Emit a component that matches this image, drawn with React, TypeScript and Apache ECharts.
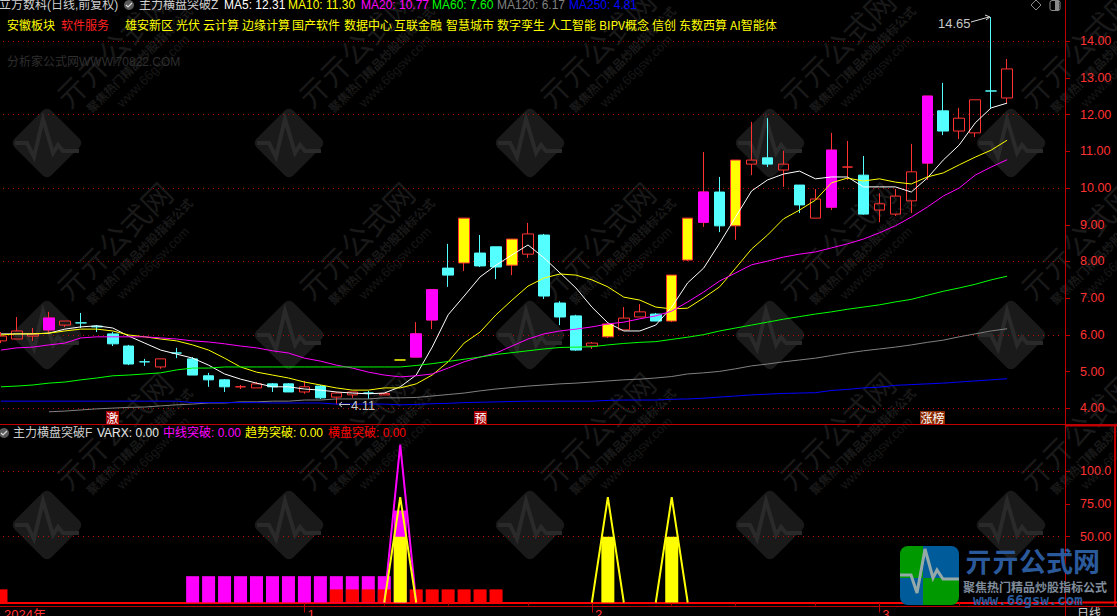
import React, { useEffect, useRef } from "react";
import * as echarts from "echarts";

// [open, close, low, high]
const candles: number[][] = [
  [5.84,5.97,5.78,6.08],[5.89,6.11,5.89,6.49],[5.97,6.03,5.84,6.19],[6.14,6.46,6.05,6.63],[6.27,6.38,6.22,6.38],
  [6.33,6.33,6.19,6.60],[6.24,6.22,6.08,6.27],[6.03,5.76,5.70,6.08],[5.70,5.21,5.18,5.73],[5.27,5.27,5.16,5.35],
  [5.13,5.35,5.08,5.35],[5.51,5.51,5.37,5.65],[5.35,4.91,4.91,5.40],[4.89,4.78,4.59,4.97],[4.78,4.59,4.45,4.80],
  [4.59,4.59,4.53,4.64],[4.56,4.67,4.56,4.72],[4.67,4.59,4.45,4.69],[4.67,4.45,4.45,4.69],[4.45,4.59,4.40,4.75],
  [4.61,4.29,4.26,4.64],[4.31,4.42,4.11,4.45],[4.37,4.45,4.29,4.45],[4.42,4.42,4.26,4.48],[4.37,4.41,4.37,4.41],
  [5.32,5.32,5.32,5.32],[5.40,6.03,5.40,6.35],[6.41,7.23,6.16,7.23],[7.82,7.63,7.31,8.48],[7.96,9.18,7.74,9.18],
  [8.23,7.88,7.85,8.72],[8.40,7.85,7.52,8.40],[7.90,8.61,7.63,8.61],[8.20,8.75,8.10,9.05],[8.72,7.06,6.98,8.75],
  [6.87,6.49,6.27,6.92],[6.52,5.59,5.57,6.55],[5.70,5.78,5.62,5.81],[5.95,6.30,5.92,6.30],[6.14,6.46,6.14,6.76],
  [6.49,6.63,6.49,6.84],[6.57,6.38,6.38,6.60],[6.38,7.63,6.35,7.63],[8.04,9.18,8.01,9.18],[9.07,9.89,8.94,10.98],
  [9.89,8.97,8.80,10.30],[8.97,10.76,8.59,10.76],[10.65,10.76,10.35,11.80],[10.82,10.65,10.57,11.90],[10.49,10.65,10.03,11.01],
  [10.08,9.54,9.32,10.08],[9.18,9.70,9.18,9.97],[9.48,11.03,9.40,11.50],[10.57,10.57,10.22,11.28],[10.35,9.29,9.27,10.87],
  [9.40,9.57,9.07,9.86],[9.29,9.78,9.24,9.97],[9.65,10.44,9.32,11.20],[10.68,12.50,10.22,12.50],[12.10,11.55,11.44,12.86],
  [11.55,11.90,11.33,12.18],[11.50,12.40,11.39,12.40],[12.64,12.64,12.18,14.65],[12.45,13.24,12.31,13.51],
];
// r hollow red, c cyan, y yellow limit-up, m magenta
const candleKinds =
  "rrrmrccccc" + "rccccrrccr" + "crrcrymmcy" + "ccyrcccryr" + "rcyymcyrcr" + "crmrcrrrmc" + "rrcr";

const ma5 = [6.03,6.03,6.03,6.05,6.16,6.22,6.25,6.19,5.97,5.78,5.59,5.48,5.37,5.18,4.94,4.80,4.69,4.59,4.59,4.53,4.50,4.45,4.42,4.40,4.42,4.59,4.91,5.67,6.55,7.06,7.58,7.90,8.18,8.45,8.10,7.69,7.28,6.76,6.33,6.11,6.11,6.27,6.76,7.42,7.82,8.50,9.21,9.92,10.22,10.38,10.46,10.25,10.30,10.30,10.03,10.03,10.03,9.89,10.27,10.76,11.17,11.77,12.18,12.31];
const ma10 = [6.00,6.03,6.03,6.05,6.11,6.16,6.16,6.11,6.00,5.95,5.89,5.84,5.73,5.59,5.37,5.13,4.99,4.91,4.83,4.72,4.64,4.56,4.50,4.50,4.56,4.56,4.67,4.91,5.27,5.78,6.08,6.55,6.95,7.33,7.55,7.66,7.63,7.50,7.31,7.03,6.95,6.76,6.71,6.73,7.01,7.31,7.82,8.34,8.72,9.16,9.40,9.67,10.14,10.27,10.19,10.25,10.16,10.11,10.30,10.41,10.63,10.84,11.03,11.30];
const ma20 = [5.59,5.65,5.67,5.73,5.78,5.92,5.95,5.95,5.95,5.95,5.92,5.89,5.84,5.81,5.76,5.70,5.65,5.57,5.51,5.37,5.29,5.18,5.10,4.99,4.91,4.86,4.89,4.94,5.10,5.27,5.40,5.51,5.70,5.89,6.03,6.11,6.16,6.22,6.30,6.35,6.44,6.52,6.65,6.90,7.17,7.47,7.69,7.91,8.01,8.12,8.20,8.26,8.37,8.48,8.61,8.78,8.97,9.21,9.48,9.78,10.00,10.35,10.57,10.77];
const ma60 = [4.59,4.61,4.64,4.69,4.72,4.78,4.83,4.89,4.91,4.94,4.97,5.05,5.10,5.10,5.13,5.13,5.13,5.13,5.13,5.13,5.13,5.13,5.13,5.13,5.13,5.13,5.17,5.22,5.28,5.34,5.40,5.47,5.52,5.57,5.62,5.66,5.67,5.68,5.73,5.77,5.80,5.82,5.88,5.94,6.01,6.11,6.19,6.27,6.35,6.43,6.50,6.57,6.63,6.70,6.76,6.82,6.90,6.97,7.08,7.19,7.28,7.38,7.50,7.60];
const ma120 = [null,null,null,3.91,3.93,3.96,3.99,4.01,4.03,4.04,4.07,4.10,4.12,4.15,4.15,4.18,4.18,4.20,4.20,4.23,4.23,4.26,4.26,4.26,4.29,4.29,4.30,4.34,4.38,4.42,4.48,4.53,4.57,4.61,4.64,4.67,4.69,4.72,4.75,4.78,4.80,4.83,4.87,4.94,4.97,5.01,5.08,5.16,5.21,5.27,5.32,5.37,5.44,5.51,5.57,5.62,5.67,5.73,5.80,5.86,5.95,6.03,6.11,6.17];
const ma250 = [4.20,4.20,4.20,4.20,4.20,4.20,4.20,4.20,4.20,4.20,4.20,4.20,4.16,4.16,4.16,4.16,4.16,4.15,4.15,4.15,4.15,4.12,4.12,4.12,4.12,4.10,4.11,4.13,4.14,4.16,4.17,4.18,4.19,4.20,4.20,4.20,4.20,4.20,4.22,4.23,4.23,4.23,4.25,4.26,4.28,4.31,4.34,4.37,4.39,4.41,4.42,4.43,4.49,4.52,4.56,4.58,4.63,4.65,4.67,4.69,4.72,4.75,4.78,4.81];

// lower panel, 64 bars, null = nothing drawn
const _ = null;
const midBars = [_,_,_,_,_,_,_,_,_,_,_,_,20,20,20,20,20,20,20,20,20,20,20,20,20,70];
const flatBars = [10,_,_,_,_,_,_,_,_,_,_,_,_,_,_,_,_,_,_,_,_,10,10,10,10,_,10,10,10,10,10,10];
const trendBars = [_,_,_,_,_,_,_,_,_,_,_,_,_,_,_,_,_,_,_,_,_,_,_,_,_,50,_,_,_,_,_,_,_,_,_,_,_,_,50,_,_,_,50];
const midLine = [_,_,_,_,_,_,_,_,_,_,_,_,_,_,_,_,_,_,_,_,_,_,_,_,0,120,0];
const trendLine = [_,_,_,_,_,_,_,_,_,_,_,_,_,_,_,_,_,_,_,_,_,_,_,_,0,80,0,_,_,_,_,_,_,_,_,_,_,0,80,0,_,0,80,0];

const priceLabels = [4,5,6,7,8,9,10,11,12,13,14];
const priceGrid = [4,6,8,10,12,14];
const subLabels = [50,75,100];
const subGrid = [50,100];
const dateLabels: Record<number,string> = { 0: "2024年", 19: "1", 37: "2", 55: "3" };
const weekTicks = [24,28,33,42,46,51,60];
const boardNames = ["雄安新区","光伏","云计算","边缘计算","国产软件","数据中心","互联金融","智慧城市","数字孪生","人工智能","BIPV概念","信创","东数西算","AI智能体"];
const boardX = [125,176,203,242,292,344,394,446,497,548,599,652,679,730];
const legendTop = [
  ["MA5: 12.31","#ffffff",224],["MA10: 11.30","#ffff00",288],["MA20: 10.77","#ff00ff",361],
  ["MA60: 7.60","#00ff00",432],["MA120: 6.17","#808080",497],["MA250: 4.81","#0000ff",569],
] as [string,string,number][];
const legendSub = [
  ["VARX: 0.00","#e8e8e8",97],["中线突破: 0.00","#ff00ff",163],["趋势突破: 0.00","#ffff00",245],["横盘突破: 0.00","#ff0000",328],
] as [string,string,number][];
const tags = [["激",106,13],["预",474,13],["涨榜",920,25]] as [string,number,number][];
const markColumns = [47,289,530,770,1011];
const markRows = [143,335,525];

const SANS = '"Liberation Sans","Noto Sans CJK SC",sans-serif';
const CJK = '"Noto Sans CJK SC",sans-serif';
const RED = "#ff3232";
const CYAN = "#54ffff";
const AXIS = "#c00000";
const DOT = "#c00000";

const kindColors: Record<string,[string,string]> = {
  r: ["transparent", RED],
  c: [CYAN, CYAN],
  y: ["#ffff00", RED],
  m: ["#ff00ff", RED],
};

function txt(text: string, x: number, y: number, fill: string, size = 12, font = SANS, weight = "normal", extra: any = {}) {
  return {
    type: "text", x, y, z: 50, silent: true, ...extra,
    style: { text, fill, font: `${weight} ${size}px ${font}`, align: "left", verticalAlign: "middle" },
  };
}
function seg(points: number[][], stroke: string, lineWidth = 1, z = 50, extra: any = {}) {
  return { type: "polyline", z, silent: true, shape: { points }, style: { stroke, lineWidth, fill: "none" }, ...extra };
}
function icon(x: number, y: number) {
  return [
    { type: "circle", z: 50, silent: true, shape: { cx: x, cy: y, r: 5 }, style: { fill: "#5a5a5a" } },
    seg([[x - 3, y], [x - 1, y + 2], [x + 3, y - 2]], "#d8d8d8", 1.2),
  ];
}

function watermark(cx: number, cy: number) {
  const rot = Math.PI / 4;
  return [
    { type: "rect", x: cx, y: cy, rotation: rot, z: 0, silent: true, shape: { x: -26, y: -26, width: 52, height: 52, r: 6 }, style: { fill: "#1a1a1a" } },
    seg([[-32, 0], [-20, 0], [-13, 14], [-4, -24], [6, 10], [11, 2], [16, 8], [32, 8]].map(([a, b]) => [cx + a, cy + b]), "#2a2a2a", 4, 1),
    {
      type: "text", x: cx + 66, y: cy - 95, rotation: rot, z: 0, silent: true,
      style: { text: "亓亓公式网", fill: "#191919", font: `30px ${CJK}`, align: "center", verticalAlign: "middle" },
    },
    {
      type: "text", x: cx + 92, y: cy - 84, rotation: rot, z: 0, silent: true,
      style: { text: "聚焦热门精品炒股指标公式", fill: "#191919", font: `bold 12px ${CJK}`, align: "center", verticalAlign: "middle" },
    },
    {
      type: "text", x: cx + 106, y: cy - 72, rotation: rot, z: 0, silent: true,
      style: { text: "www.66gsw.com", fill: "#171717", font: `13px ${SANS}`, align: "center", verticalAlign: "middle" },
    },
  ];
}

function logo() {
  const X = 900, Y = 546, W = 59, H = 59, MX = 923, MY = 578;
  const q = (x: number, y: number, w: number, h: number, fill: string, r: number[]) => ({
    type: "rect", z: 60, silent: true, shape: { x, y, width: w, height: h, r }, style: { fill },
  });
  return [
    q(X, Y, MX - X, MY - Y, "#009900", [8, 0, 0, 0]),
    q(MX, Y, X + W - MX, MY - Y, "#005b9b", [0, 8, 0, 0]),
    q(X, MY, MX - X, Y + H - MY, "#005b9b", [0, 0, 0, 8]),
    q(MX, MY, X + W - MX, Y + H - MY, "#009900", [0, 0, 8, 0]),
    seg([[900,575],[911,575],[917,593],[925,549],[933,578],[937,570],[943,579],[959,579]], "#95aaa8", 3, 61),
    txt("亓亓公式网", 965, 560, "#2b5a9c", 27, CJK, "bold", { z: 61 }),
    txt("聚焦热门精品炒股指标公式", 963, 586, "#7f8c9c", 12, CJK, "bold", { z: 61 }),
    txt("www.66gsw.com", 973, 600, "#2b5a9c", 14, '"DejaVu Sans Mono",monospace', "bold", { z: 61 }),
  ];
}

export default function App() {
  const ref = useRef<HTMLDivElement>(null);
  useEffect(() => {
    document.body.style.margin = "0";
    document.body.style.background = "#000";
    document.body.style.overflow = "hidden";
    const chart = echarts.init(ref.current!, undefined, { renderer: "svg" });

    const n = 67;
    const cats = Array.from({ length: n }, (_v, i) => String(i));
    const fontLabel = { color: RED, fontSize: 12.5, fontFamily: SANS, margin: 15 };
    const dotted = { show: true, lineStyle: { color: DOT, type: [1, 4] as any, width: 1 } };
    const pad = (a: (number | null)[]) => Array.from({ length: n }, (_v, i) => (a[i] === undefined ? null : a[i]));

    const candleData = candles.map((v, i) => {
      const [fill, edge] = kindColors[candleKinds[i]];
      const flatY = v[0] === v[1] && candleKinds[i] === "y";
      const e = flatY ? "#ffff00" : edge;
      return { value: v, itemStyle: { color: fill, color0: fill, borderColor: e, borderColor0: e, borderWidth: 1 } };
    });
    const magentaBodies = candles.map((v, i) =>
      candleKinds[i] === "m"
        ? { value: [v[0], v[1], v[0], v[1]], itemStyle: { color: "#ff00ff", color0: "#ff00ff", borderColor: "#ff00ff", borderColor0: "#ff00ff", borderWidth: 1 } }
        : { value: [null, null, null, null] }
    );

    const line = (name: string, data: any[], color: string, width = 1, x = 0, y = 0, z = 3) => ({
      name, type: "line", data: pad(data), xAxisIndex: x, yAxisIndex: y, showSymbol: false, symbol: "none",
      smooth: false, connectNulls: false, z, lineStyle: { color, width }, itemStyle: { color },
      emphasis: { disabled: true },
    });
    const bar = (name: string, data: any[], color: string) => ({
      name, type: "bar", data: pad(data), xAxisIndex: 1, yAxisIndex: 2, barWidth: 13, barGap: "-100%",
      itemStyle: { color }, emphasis: { disabled: true },
    });

    const elements: any[] = [];
    markRows.forEach((r) => markColumns.forEach((c) => elements.push(...watermark(c, r))));

    elements.push(
      txt("立方数科(日线,前复权)", -1, 5, "#cfcfcf"),
      ...icon(129, 5),
      txt("主力横盘突破Z", 139, 5, "#cfcfcf"),
      ...legendTop.map(([t, c, x]) => txt(t, x, 5, c)),
      txt("安徽板块", 7, 24, "#ffff00", 12, CJK),
      txt("软件服务", 61, 24, "#ff2020", 12, CJK),
      ...boardNames.map((t, i) => txt(t, boardX[i], 24, "#ffff00", 12, CJK)),
      txt("分析家公式网WWW.70822.COM", 7, 62, "#2e2e2e", 12),
      txt("14.65", 938, 23, "#c8c8c8", 13),
      seg([[971, 22], [989, 17]], "#d8d8d8"),
      seg([[985, 15], [990, 17], [986, 20]], "#d8d8d8"),
      seg([[339, 404.5], [350, 404.5]], "#c8c8c8"),
      seg([[342, 402], [339, 404.5], [342, 407]], "#c8c8c8"),
      txt("4.11", 351, 405, "#c8c8c8", 13),
      ...icon(4, 433),
      txt("主力横盘突破F", 13, 433, "#cfcfcf"),
      ...legendSub.map(([t, c, x]) => txt(t, x, 433, c)),
      { type: "polygon", z: 50, silent: true, shape: { points: [[1036, 0], [1041, 5], [1036, 10], [1031, 5]] }, style: { stroke: "#8a8a8a", fill: "none", lineWidth: 1 } },
      { type: "rect", z: 50, silent: true, shape: { x: 1050, y: 0.5, width: 10, height: 10, r: 2 }, style: { stroke: "#8a8a8a", fill: "none", lineWidth: 1 } },
      { type: "rect", z: 50, silent: true, shape: { x: 1055, y: 1, width: 4, height: 9 }, style: { fill: "#8a8a8a" } },
      ...tags.flatMap(([t, x, w]) => [
        { type: "rect", z: 50, silent: true, shape: { x, y: 411, width: w, height: 13 }, style: { fill: t === "涨榜" ? "#8a2a00" : "#a80000" } },
        txt(t, x + 0.5, 417.5, "#ffffff", 12, CJK),
      ]),
      seg([[0, 424.5], [1117, 424.5]], AXIS),
      seg([[0, 606.5], [1117, 606.5]], AXIS),
      seg([[1065.5, 0], [1065.5, 616]], AXIS),
      seg([[1066, 425.5], [1117, 425.5]], AXIS, 2),
      seg([[1115, 425], [1115, 606]], AXIS, 2),
      seg([[1063, 602.5], [1117, 602.5]], "#ff0000", 2),
      txt("日线", 1077, 612, "#d0d0d0", 12, CJK),
      ...logo(),
    );

    chart.setOption({
      animation: false,
      backgroundColor: "#000000",
      tooltip: { show: false },
      graphic: { elements },
      grid: [
        { left: -7, top: 0, width: 1070, height: 424, containLabel: false, outerBoundsMode: "none" },
        { left: -7, top: 424, width: 1070, height: 178.5, containLabel: false, outerBoundsMode: "none" },
      ],
      xAxis: [
        { type: "category", gridIndex: 0, data: cats, boundaryGap: true, axisLine: { show: false }, axisTick: { show: false }, axisLabel: { show: false }, splitLine: { show: false } },
        { type: "category", gridIndex: 1, data: cats, boundaryGap: true, axisLine: { show: true, onZero: false, lineStyle: { color: "#ff0000", width: 2 } }, axisTick: { show: false }, axisLabel: { show: false }, splitLine: { show: false } },
        {
          type: "category", gridIndex: 1, data: cats, position: "bottom", offset: 4, boundaryGap: true,
          axisLine: { show: false },
          axisTick: { show: true, alignWithLabel: true, length: 3, interval: (i: number) => weekTicks.includes(i), lineStyle: { color: AXIS } },
          axisLabel: {
            show: true, color: RED, fontSize: 13, fontFamily: SANS, margin: 1, align: "left", verticalAlign: "top", padding: [0, 0, 0, 3],
            interval: (i: number) => dateLabels[i] !== undefined,
            formatter: (_v: string, i: number) => dateLabels[i] ?? "",
          },
          splitLine: { show: false },
        },
        {
          type: "category", gridIndex: 1, data: cats, position: "bottom", offset: 4, boundaryGap: true,
          axisLine: { show: false },
          axisTick: { show: true, alignWithLabel: true, length: 10, interval: (i: number) => dateLabels[i] !== undefined && i > 0, lineStyle: { color: AXIS } },
          axisLabel: { show: false }, splitLine: { show: false },
        },
      ],
      yAxis: [
        {
          type: "value", gridIndex: 0, position: "right", offset: 2, min: 3.578, max: 15.116, scale: true,
          axisLine: { show: false },
          axisTick: { show: true, customValues: priceLabels, length: 5, lineStyle: { color: AXIS } },
          axisLabel: { show: true, customValues: priceLabels, ...fontLabel, formatter: (v: number) => v.toFixed(2) },
          splitLine: { show: false },
        },
        {
          type: "value", gridIndex: 0, position: "right", min: 3.578, max: 15.116, scale: true,
          axisLine: { show: false },
          axisTick: { show: false, customValues: priceGrid },
          axisLabel: { show: false, customValues: priceGrid },
          splitLine: dotted,
        },
        {
          type: "value", gridIndex: 1, position: "right", offset: 2, min: 0, max: 135.7,
          axisLine: { show: false },
          axisTick: { show: true, customValues: subLabels, length: 5, lineStyle: { color: AXIS } },
          axisLabel: { show: true, customValues: subLabels, ...fontLabel, formatter: (v: number) => (v >= 100 ? v.toFixed(1) : v.toFixed(2)) },
          splitLine: { show: false },
        },
        {
          type: "value", gridIndex: 1, position: "right", min: 0, max: 135.7,
          axisLine: { show: false },
          axisTick: { show: false, customValues: subGrid },
          axisLabel: { show: false, customValues: subGrid },
          splitLine: dotted,
        },
      ],
      series: [
        { name: "K线", type: "candlestick", xAxisIndex: 0, yAxisIndex: 0, barWidth: 11, data: candleData, z: 2, clip: true, emphasis: { disabled: true } },
        { name: "实体", type: "candlestick", xAxisIndex: 0, yAxisIndex: 0, barWidth: 11, data: magentaBodies, z: 2, emphasis: { disabled: true } },
        line("MA5", ma5, "#ffffff"),
        line("MA10", ma10, "#ffff00"),
        line("MA20", ma20, "#ff00ff"),
        line("MA60", ma60, "#00ff00"),
        line("MA120", ma120, "#808080"),
        line("MA250", ma250, "#0000ff"),
        bar("中线突破", midBars, "#ff00ff"),
        bar("横盘突破", flatBars, "#ff0000"),
        bar("趋势突破", trendBars, "#ffff00"),
        line("中线突破线", midLine, "#ff00ff", 2, 1, 2),
        line("趋势突破线", trendLine, "#ffff00", 2, 1, 2, 4),
      ],
    });
    return () => chart.dispose();
  }, []);
  return <div ref={ref} style={{ width: 1117, height: 616, background: "#000" }} />;
}
